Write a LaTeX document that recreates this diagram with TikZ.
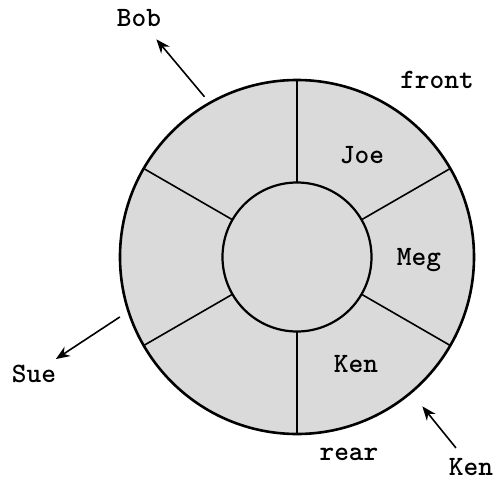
\documentclass[tikz,border=0pt]{standalone}
\usepackage{tikz}
\usetikzlibrary{arrows.meta}
\definecolor{slotgray}{RGB}{218,218,218}

\begin{document}
\begin{tikzpicture}[x=1pt,y=1pt,every node/.style={font=\ttfamily\bfseries\fontsize{28}{30}\selectfont,inner sep=2pt},
  ring/.style={draw,line width=2.6pt,fill=slotgray},
  spoke/.style={line width=1.6pt},
  ptr/.style={line width=1.6pt,-{Stealth[length=14pt,width=11pt]}}]
\useasboundingbox (-297,-223) rectangle (201,257);
\coordinate (c) at (0,0);
\draw[ring] (c) circle (177);
\draw[ring,line width=2.2pt] (c) circle (74.5);
\draw[spoke] (90:74.5)--(90:177);
\draw[spoke] (30:74.5)--(30:177);
\draw[spoke] (-30:74.5)--(-30:177);
\draw[spoke] (-90:74.5)--(-90:177);
\draw[spoke] (-150:74.5)--(-150:177);
\draw[spoke] (150:74.5)--(150:177);
\node[anchor=base] (joe) at (65,94) {Joe};
\node[anchor=base] (meg) at (122,-8) {Meg};
\node[anchor=base] (ken) at (59,-115) {Ken};
\node[anchor=base] (front) at (140,169) {front};
\node[anchor=base] (rear) at (52,-203) {rear};
\node[anchor=base] (bob) at (-158,230) {Bob};
\node[anchor=base] (sue) at (-263,-125) {Sue};
\node[anchor=base] (kennew) at (174,-218) {Ken};
\coordinate (bobout) at (120:185);
\coordinate (sueout) at (198.7:187);
\coordinate (kenin) at (-50:195);
\draw[ptr,shorten >=13pt] (bobout) -- (bob);
\draw[ptr,shorten >=6pt] (sueout) -- (sue);
\draw[ptr,shorten <=10pt] (kennew) -- (kenin);
\end{tikzpicture}
\end{document}
